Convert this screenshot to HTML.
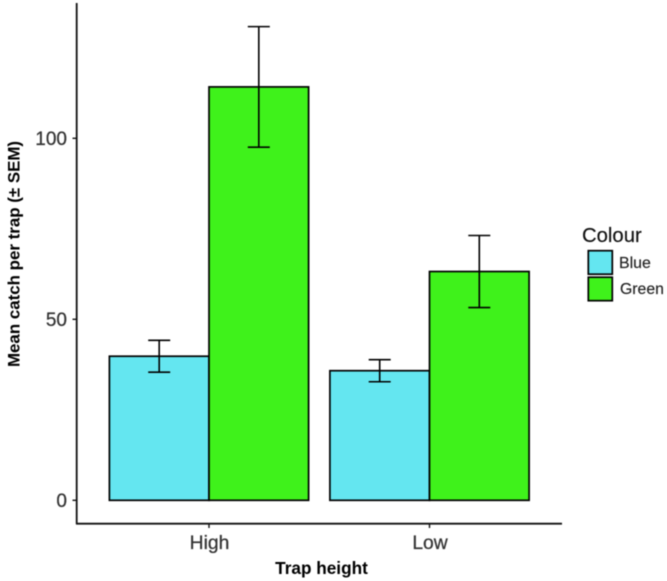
<!DOCTYPE html>
<html>
<head>
<meta charset="utf-8">
<style>
html,body{margin:0;padding:0;background:#fff;}
svg{display:block;font-family:"Liberation Sans",sans-serif;filter:blur(0.4px);}
</style>
</head>
<body>
<svg id="chart" width="667" height="581" viewBox="0 0 667 581" xmlns="http://www.w3.org/2000/svg">
<rect x="0" y="0" width="667" height="581" fill="#fff"/>
<g id="marks"></g>
<g id="axes"></g>
<text transform="translate(19.5,254) rotate(-90)" text-anchor="middle" font-size="16.9" font-weight="bold" fill="#000">Mean catch per trap (± SEM)</text>
<text x="321.5" y="574" text-anchor="middle" font-size="17.2" font-weight="bold" fill="#000">Trap height</text>
<g>
<text x="582" y="242" font-size="20.3" fill="#111" stroke="#111" stroke-width="0.15">Colour</text>
<rect x="588.3" y="250.7" width="24" height="23.5" fill="#64E6F0" stroke="#000" stroke-width="1.7"/>
<rect x="588.3" y="277.2" width="24" height="23.5" fill="#3FF21B" stroke="#000" stroke-width="1.7"/>
<text x="619" y="268" font-size="15.9" fill="#222" stroke="#222" stroke-width="0.15">Blue</text>
<text x="620" y="294" font-size="15.8" fill="#222" stroke="#222" stroke-width="0.15">Green</text>
</g>
</svg>
<script>
const categories = ['High', 'Low'];
const seriesNames = ['Blue', 'Green'];
const blueMeans = [39.8, 35.8];
const greenMeans = [114.2, 63.2];
const blueSem = [4.4, 3.05];
const greenSem = [16.65, 9.95];
const yTickValues = [0, 50, 100];

const svgNS = 'http://www.w3.org/2000/svg';
const marks = document.getElementById('marks');
const axes = document.getElementById('axes');

function yScale(v) { return 500.3 - v * 3.62; }
function xScale(i) { return 209 + i * 220.5; }
const barWidth = 99.6;
const capHalf = 11;

function make(parent, tag, attrs) {
  const el = document.createElementNS(svgNS, tag);
  for (const k in attrs) el.setAttribute(k, attrs[k]);
  parent.appendChild(el);
  return el;
}

function drawSeries(means, sem, fill, offset, label) {
  means.forEach(function (m, i) {
    const left = xScale(i) + offset * barWidth;
    const bar = make(marks, 'rect', {
      x: left, y: yScale(m), width: barWidth, height: yScale(0) - yScale(m),
      fill: fill, stroke: '#000', 'stroke-width': 1.7
    });
    
    
  });
}

function drawErrors(means, sem, offset, label) {
  means.forEach(function (m, i) {
    const cx = xScale(i) + (offset + 0.5) * barWidth;
    const top = yScale(m + sem[i]);
    const bottom = yScale(m - sem[i]);
    const d = 'M' + (cx - capHalf) + ' ' + top + 'H' + (cx + capHalf) +
      'M' + cx + ' ' + top + 'V' + bottom +
      'M' + (cx - capHalf) + ' ' + bottom + 'H' + (cx + capHalf);
    const err = make(marks, 'path', { d: d, fill: 'none', stroke: '#000', 'stroke-width': 1.6 });
    
    
  });
}

drawSeries(blueMeans, blueSem, '#64E6F0', -1, seriesNames[0].toLowerCase());
drawSeries(greenMeans, greenSem, '#3FF21B', 0, seriesNames[1].toLowerCase());
drawErrors(blueMeans, blueSem, -1, seriesNames[0].toLowerCase());
drawErrors(greenMeans, greenSem, 0, seriesNames[1].toLowerCase());

const yLine = make(axes, 'line', { x1: 76.7, x2: 76.7, y1: 3, y2: 524, stroke: '#111', 'stroke-width': 1.8 });


const xLine = make(axes, 'line', { x1: 76, x2: 562, y1: 523.7, y2: 523.7, stroke: '#111', 'stroke-width': 1.8 });



yTickValues.forEach(function (v) {
  const y = yScale(v);
  const t = make(axes, 'line', { x1: 72.5, x2: 76, y1: y, y2: y, stroke: '#111', 'stroke-width': 1.4 });
  
  
  const l = make(axes, 'text', { x: 67, y: y + 6.7, 'text-anchor': 'end', 'font-size': 19, fill: '#333', stroke: '#333', 'stroke-width': 0.25 });
  
  
  l.textContent = String(v);
});

categories.forEach(function (c, i) {
  const x = xScale(i);
  const t = make(axes, 'line', { x1: x, x2: x, y1: 524, y2: 528, stroke: '#111', 'stroke-width': 1.4 });
  
  
  const l = make(axes, 'text', { x: x + 0.5, y: 549, 'text-anchor': 'middle', 'font-size': 19.3, fill: '#333', stroke: '#333', 'stroke-width': 0.25 });
  
  
  l.textContent = c;
});
</script>
</body>
</html>
